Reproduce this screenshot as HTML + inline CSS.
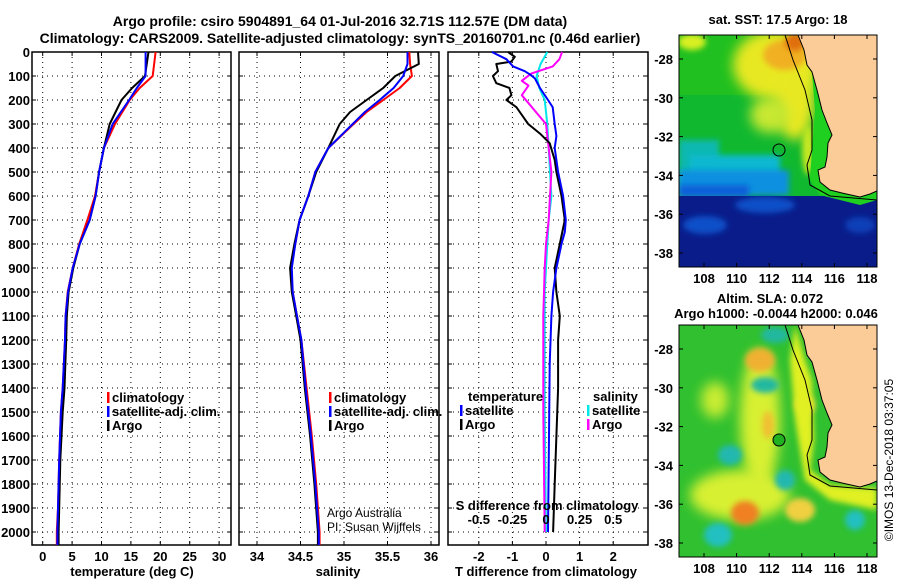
<!DOCTYPE html>
<html><head><meta charset="utf-8"><style>
body{margin:0;background:#fff;width:900px;height:580px;overflow:hidden;font-family:"Liberation Sans",sans-serif}
svg text{font-family:"Liberation Sans",sans-serif}
.b{font-weight:bold;font-size:13px}
</style></head><body>
<svg id="c" width="900" height="580" xmlns="http://www.w3.org/2000/svg">
<defs>
<filter id="bl" x="-50%" y="-50%" width="200%" height="200%"><feGaussianBlur stdDeviation="6"/></filter>
<filter id="bl2" x="-50%" y="-50%" width="200%" height="200%"><feGaussianBlur stdDeviation="3"/></filter>
<clipPath id="m1c"><rect x="679" y="35" width="198" height="232"/></clipPath>
<clipPath id="m2c"><rect x="679" y="325" width="198" height="232"/></clipPath>
</defs>
<text x="340" y="26" text-anchor="middle" class="b" style="font-size:14px">Argo profile: csiro 5904891_64 01-Jul-2016 32.71S 112.57E (DM data)</text>
<text x="340" y="43" text-anchor="middle" class="b" style="font-size:14px">Climatology: CARS2009. Satellite-adjusted climatology: synTS_20160701.nc (0.46d earlier)</text>

<!-- map 1 -->
<g clip-path="url(#m1c)">
<rect x="679" y="35" width="198" height="232" fill="#10b830"/>
<rect x="679" y="35" width="198" height="60" fill="#20c020"/>
<ellipse cx="775" cy="65" rx="42" ry="35" fill="#e8e820" filter="url(#bl)"/>
<ellipse cx="795" cy="100" rx="20" ry="40" fill="#e8e820" filter="url(#bl)"/>
<ellipse cx="770" cy="115" rx="20" ry="18" fill="#c8e830" filter="url(#bl)"/>
<ellipse cx="785" cy="55" rx="22" ry="15" fill="#f0b020" filter="url(#bl2)"/>
<ellipse cx="795" cy="42" rx="10" ry="9" fill="#e07010" filter="url(#bl2)"/>
<ellipse cx="692" cy="42" rx="14" ry="8" fill="#d8f020" filter="url(#bl2)"/>
<rect x="679" y="140" width="40" height="50" fill="#10b8b0" filter="url(#bl2)"/>
<rect x="690" y="155" width="90" height="35" fill="#10b8d0" filter="url(#bl2)"/>
<rect x="679" y="170" width="110" height="25" fill="#1090e0" filter="url(#bl2)"/>
<rect x="679" y="185" width="70" height="12" fill="#1060d8" filter="url(#bl2)"/>
<rect x="679" y="196" width="198" height="71" fill="#0a1c8a"/>
<ellipse cx="705" cy="225" rx="22" ry="9" fill="#1050c8" filter="url(#bl2)"/>
<ellipse cx="765" cy="205" rx="30" ry="8" fill="#1050c8" filter="url(#bl2)"/>
<ellipse cx="860" cy="225" rx="15" ry="8" fill="#1040b8" filter="url(#bl2)"/>
<ellipse cx="808" cy="150" rx="6" ry="25" fill="#c8e820" filter="url(#bl2)"/>
<path d="M812,72 L817,90 L822,110 L827,123 L832,135 L828,143 L827,157 L825,167 L818,170 L820,182 L830,190 L842,193 L860,197 L870,194 L877,191 L877,200 L860,205 L840,200 L820,195 L810,180 L812,150 L815,110Z" fill="#20d020"/>
<path d="M798,35 L804,50 L807,65 L812,72 L817,90 L822,110 L827,123 L832,135 L828,143 L827,157 L825,167 L818,170 L820,182 L830,190 L842,193 L860,197 L870,194 L877,191 L877,35Z" fill="#fccc98" stroke="#000" stroke-width="1"/>
<path d="M785,35 L793,60 L805,90 L812,120 L812,150 L807,165 L810,185 L830,196 L877,200" fill="none" stroke="#000" stroke-width="1"/>
<circle cx="779" cy="150" r="6" fill="none" stroke="#000"/>
</g>
<rect x="679" y="35" width="198" height="232" fill="none" stroke="#000"/>
<text x="778" y="24" text-anchor="middle" class="b">sat. SST: 17.5 Argo: 18</text>

<!-- map 2 -->
<g clip-path="url(#m2c)">
<rect x="679" y="325" width="198" height="232" fill="#30c030"/>
<ellipse cx="760" cy="420" rx="20" ry="70" fill="#d8f030" filter="url(#bl)"/>
<ellipse cx="740" cy="495" rx="50" ry="25" fill="#d8f030" filter="url(#bl)"/>
<ellipse cx="760" cy="360" rx="15" ry="12" fill="#f0b030" filter="url(#bl2)"/>
<ellipse cx="745" cy="513" rx="14" ry="12" fill="#f08020" filter="url(#bl2)"/>
<ellipse cx="800" cy="510" rx="15" ry="12" fill="#f0d040" filter="url(#bl2)"/>
<ellipse cx="768" cy="425" rx="6" ry="14" fill="#f0c030" filter="url(#bl2)"/>
<ellipse cx="805" cy="405" rx="10" ry="10" fill="#f0d040" filter="url(#bl2)"/>
<ellipse cx="715" cy="400" rx="14" ry="18" fill="#c8ec30" filter="url(#bl)"/>
<ellipse cx="765" cy="385" rx="14" ry="8" fill="#20b8a0" filter="url(#bl2)"/>
<ellipse cx="730" cy="455" rx="12" ry="10" fill="#20b8b0" filter="url(#bl2)"/>
<ellipse cx="785" cy="480" rx="10" ry="10" fill="#20b8b0" filter="url(#bl2)"/>
<ellipse cx="718" cy="535" rx="14" ry="12" fill="#20c0c0" filter="url(#bl2)"/>
<ellipse cx="855" cy="520" rx="10" ry="10" fill="#20c0c0" filter="url(#bl2)"/>
<ellipse cx="775" cy="335" rx="14" ry="8" fill="#20b8a0" filter="url(#bl2)"/>
<path d="M795,325 L805,360 L812,380 L814,440 L810,470 L830,485 L877,488 L877,510 L830,500 L805,480 L795,420 L790,360Z" fill="#e0f020" filter="url(#bl2)"/>
<path d="M798,325 L804,340 L807,355 L812,362 L817,380 L822,400 L827,413 L832,425 L828,433 L827,447 L825,457 L818,460 L820,472 L830,480 L842,483 L860,487 L870,484 L877,481 L877,325Z" fill="#fccc98" stroke="#000" stroke-width="1"/>
<path d="M785,325 L793,350 L805,380 L812,410 L812,440 L807,455 L810,475 L830,486 L877,490" fill="none" stroke="#000" stroke-width="1"/>
<circle cx="779" cy="440" r="6" fill="#20b020" stroke="#000"/>
</g>
<rect x="679" y="325" width="198" height="232" fill="none" stroke="#000"/>
<text x="770" y="303" text-anchor="middle" class="b">Altim. SLA: 0.072</text>
<text x="776" y="318" text-anchor="middle" class="b">Argo h1000: -0.0044 h2000: 0.046</text>
<text transform="translate(893,460) rotate(-90)" text-anchor="middle" style="font-size:12px">©IMOS 13-Dec-2018 03:37:05</text>
<g id="axes"></g>
</svg>
<script>
// ---- data ----
const depthT = [0,100,150,200,300,400,500,600,700,800,900,1000,1100,1200,1400,1500,1700,1900,2000,2054];
const tempClim = [19.2,18.7,16.5,14.8,12.3,10.4,9.6,8.9,7.6,6.2,5.1,4.25,3.9,3.8,3.4,3.1,2.8,2.6,2.4,2.4];
const tempSat  = [17.5,17.5,16.0,14.7,11.9,10.4,9.6,9.0,8.0,6.3,5.1,4.3,3.9,3.8,3.4,3.1,2.8,2.6,2.5,2.5];
const tempArgo = [18.0,17.4,15.2,13.4,11.4,10.4,9.6,9.0,8.0,6.3,5.2,4.4,4.1,4.0,3.7,3.4,3.0,2.8,2.7,2.7];
const depthS = [0,50,100,150,200,250,300,400,500,600,700,800,900,1000,1100,1200,1400,1600,1800,2000,2054];
const salClim = [35.75,35.76,35.78,35.64,35.45,35.26,35.11,34.82,34.67,34.59,34.49,34.44,34.39,34.41,34.46,34.51,34.57,34.63,34.68,34.72,34.72];
const salSat  = [35.73,35.73,35.68,35.57,35.41,35.24,35.10,34.82,34.67,34.59,34.49,34.44,34.40,34.41,34.46,34.51,34.56,34.62,34.67,34.71,34.71];
const salArgo = [35.85,35.86,35.59,35.45,35.26,35.07,34.95,34.82,34.68,34.59,34.49,34.43,34.38,34.40,34.45,34.50,34.55,34.61,34.66,34.70,34.70];
const dTsDepth = [0,30,60,80,95,110,150,200,230,300,350,400,500,600,700,750,800,900,1000,1100,1300,1600,2000];
const dTsat = [-1.61,-1.18,-0.98,-0.63,-0.46,-0.33,-0.18,0.06,0.2,0.26,0.31,0.26,0.36,0.51,0.59,0.56,0.46,0.31,0.21,0.16,0.11,0.09,0.06];
const dTaDepth = [0,20,40,50,80,100,130,150,180,200,230,260,300,340,380,450,500,600,700,800,900,1000,1100,1200,1400,1600,1800,2000];
const dTargo = [-1.13,-0.93,-1.03,-1.48,-1.43,-1.58,-1.48,-1.09,-1.03,-1.18,-0.88,-0.73,-0.53,-0.18,0.11,0.26,0.31,0.46,0.56,0.41,0.26,0.31,0.41,0.36,0.36,0.31,0.26,0.21];
const dSsDepth = [0,50,100,150,200,300,400,500,600,700,800,1000,1500,2000];
const dSsat = [0.01,-0.04,-0.07,-0.05,-0.01,0.01,0.02,0.03,0.04,0.02,0.01,-0.01,-0.01,0.0];
const dSaDepth = [0,30,60,90,120,140,180,220,260,300,400,500,600,700,800,900,1100,1500,2000];
const dSargo = [0.12,0.10,0.05,-0.11,-0.18,-0.13,-0.18,-0.12,-0.06,0.0,0.02,0.04,0.03,0.02,0.0,-0.01,-0.02,-0.02,-0.01];
const depthTicks = [0,100,200,300,400,500,600,700,800,900,1000,1100,1200,1300,1400,1500,1600,1700,1800,1900,2000];
const tTicks = [0,5,10,15,20,25,30];
const sTicks = [34,34.5,35,35.5,36];
const sTickLabels = ["34","34.5","35","35.5","36"];
const dTTicks = [-2,-1,0,1,2];
const dSTicks = [-0.5,-0.25,0,0.25,0.5];
const dSTickLabels = ["-0.5","-0.25","0","0.25","0.5"];

// ---- scales ----
const TOP=52, BOT=545;
const y = d => TOP + d*0.24;
const xT = t => 42.7 + t*5.88;
const xS = s => 257 + (s-34)*87;
const xdT = v => 546 + v*33.6;
const xdS = v => 546 + v*134.4;
const NS='http://www.w3.org/2000/svg';
const g=document.getElementById('axes');
function mk(tag,attrs,parent){const e=document.createElementNS(NS,tag);for(const k in attrs)e.setAttribute(k,attrs[k]);(parent||g).appendChild(e);return e;}
function txt(x,yy,s,anchor,cls,parent){const e=mk('text',{x:x,y:yy,'text-anchor':anchor||'middle','class':cls||'b'},parent);e.textContent=s;return e;}

const panels=[{x0:32,x1:231,n:'temperature'},{x0:239,x1:439,n:'salinity'},{x0:448,x1:648,n:'difference'}];
panels.forEach((p,pi)=>{
  const pg=mk('g',{});
  
  
  depthTicks.forEach(d=>{
    if(d>0){const l=mk('line',{x1:p.x0,x2:p.x1,y1:y(d),y2:y(d),stroke:'#000','stroke-dasharray':'1,4'},pg);
    
    }
    mk('line',{x1:p.x0,x2:p.x0+4,y1:y(d),y2:y(d),stroke:'#000'},pg);
    mk('line',{x1:p.x1-4,x2:p.x1,y1:y(d),y2:y(d),stroke:'#000'},pg);
  });
  let xs, ticks, labs;
  if(pi===0){xs=xT;ticks=tTicks;labs=tTicks.map(String);}
  else if(pi===1){xs=xS;ticks=sTicks;labs=sTickLabels;}
  else {xs=xdT;ticks=dTTicks;labs=dTTicks.map(String);}
  ticks.forEach((t,i)=>{
    const l=mk('line',{x1:xs(t),x2:xs(t),y1:TOP,y2:BOT,stroke:'#000','stroke-dasharray':'1,4'},pg);
    
    
    mk('line',{x1:xs(t),x2:xs(t),y1:BOT-4,y2:BOT,stroke:'#000'},pg);
    mk('line',{x1:xs(t),x2:xs(t),y1:TOP,y2:TOP+4,stroke:'#000'},pg);
    const tl=txt(xs(t),561,labs[i],'middle','b',pg);
    
    
  });
  const fr=mk('rect',{x:p.x0,y:TOP,width:p.x1-p.x0,height:BOT-TOP,fill:'none',stroke:'#000','stroke-width':1.5},pg);
  
  
});
depthTicks.forEach(d=>{
  const t=txt(30,y(d)+5,String(d),'end');
  
  
});
function line(ds,vs,xs,color,name){
  const pts=ds.map((d,i)=>xs(vs[i]).toFixed(1)+','+y(d).toFixed(1)).join(' ');
  const e=mk('polyline',{points:pts,fill:'none',stroke:color,'stroke-width':2,'stroke-linejoin':'round'});
  
  
}
line(depthT,tempClim,xT,'#ff0000','temperature-climatology-line');
line(depthT,tempArgo,xT,'#000','temperature-argo-line');
line(depthT,tempSat,xT,'#0000ff','temperature-satellite-line');
line(depthS,salClim,xS,'#ff0000','salinity-climatology-line');
line(depthS,salArgo,xS,'#000','salinity-argo-line');
line(depthS,salSat,xS,'#0000ff','salinity-satellite-line');
line(dSsDepth,dSsat,xdS,'#00e8e8','s-diff-satellite-line');
line(dSaDepth,dSargo,xdS,'#ff00ff','s-diff-argo-line');
line(dTaDepth,dTargo,xdT,'#000','t-diff-argo-line');
line(dTsDepth,dTsat,xdT,'#0000ff','t-diff-satellite-line');

const st=txt(547,510,'S difference from climatology');


dSTicks.forEach((v,i)=>{
  const t=txt(xdS(v),524,dSTickLabels[i]);
  
  
});
[[132,'temperature (deg C)','temperature-axis-title'],[338,'salinity','salinity-axis-title'],[546,'T difference from climatology','t-diff-axis-title']].forEach(a=>{
  const t=txt(a[0],576,a[1]);
  
  
});
function leg(x,yy,color,label,name){
  const r=mk('rect',{x:x,y:yy-10,width:2.5,height:11,fill:color});
  
  
  const t=txt(x+5,yy,label,'start');
  
  
}
[[107,'temp'],[329,'sal']].forEach(L=>{
  leg(L[0],402,'#ff0000','climatology',L[1]+'-legend-climatology');
  leg(L[0],416,'#0000ff','satellite-adj. clim.',L[1]+'-legend-satellite');
  leg(L[0],430,'#000','Argo',L[1]+'-legend-argo');
});
const lt=txt(468,401,'temperature','start');


leg(460,415,'#0000ff','satellite','diff-legend-t-satellite');
leg(460,429,'#000','Argo','diff-legend-t-argo');
const ls=txt(593,401,'salinity','start');


leg(587,415,'#00e8e8','satellite','diff-legend-s-satellite');
leg(587,429,'#ff00ff','Argo','diff-legend-s-argo');
const a1=txt(327,517,'Argo Australia','start','n');a1.setAttribute('style','font-size:12px');


const a2=txt(327,531,'PI: Susan Wijffels','start','n');a2.setAttribute('style','font-size:12px');



const lons=[108,110,112,114,116,118];
const lats=[-28,-30,-32,-34,-36,-38];
const mx = lon => 704 + (lon-108)*16.3;
[[35,59,283,'sst'],[325,349,573,'sla']].forEach(M=>{
  const [top,y28,ly,nm]=M;
  const my = lat => y28 + (-28-lat)*19.4;
  lons.forEach(l=>{
    mk('line',{x1:mx(l),x2:mx(l),y1:top+232,y2:top+228,stroke:'#000'});
    mk('line',{x1:mx(l),x2:mx(l),y1:top,y2:top+4,stroke:'#000'});
    const t=txt(mx(l),ly,String(l));
    
    
  });
  lats.forEach(l=>{
    mk('line',{x1:679,x2:683,y1:my(l),y2:my(l),stroke:'#000'});
    mk('line',{x1:873,x2:877,y1:my(l),y2:my(l),stroke:'#000'});
    const t=txt(673,my(l)+5,String(l),'end');
    
    
  });
});
</script>
</body></html>
